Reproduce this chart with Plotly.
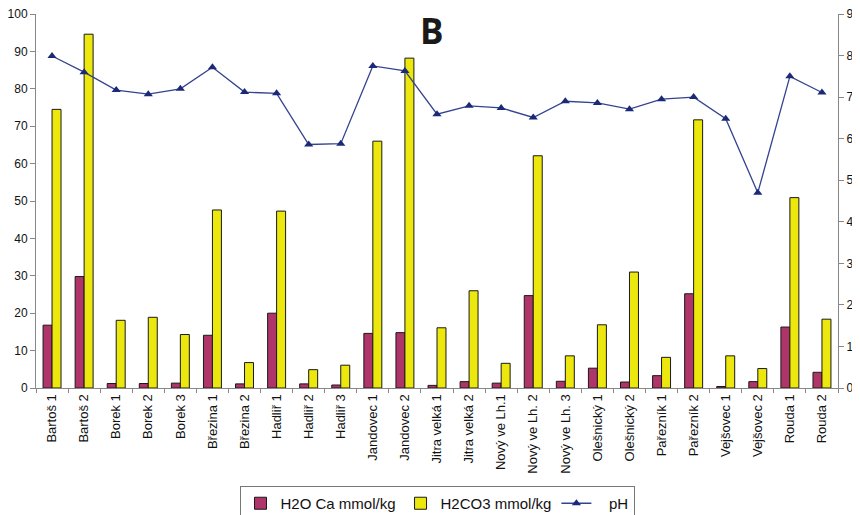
import plotly.graph_objects as go

categories = ["Bartoš 1", "Bartoš 2", "Borek 1", "Borek 2", "Borek 3", "Březina 1", "Březina 2",
              "Hadliř 1", "Hadliř 2", "Hadliř 3", "Jandovec 1", "Jandovec 2", "Jitra velká 1",
              "Jitra velká 2", "Nový ve Lh.1", "Nový ve Lh. 2", "Nový ve Lh. 3", "Olešnický 1",
              "Olešnický 2", "Pařezník 1", "Pařezník 2", "Vejšovec 1", "Vejšovec 2", "Rouda 1", "Rouda 2"]
h2o_ca = [16.8, 29.8, 1.2, 1.2, 1.3, 14.1, 1.1, 20.0, 1.1, 0.8, 14.6, 14.8, 0.7,
          1.7, 1.3, 24.7, 1.8, 5.3, 1.6, 3.3, 25.2, 0.4, 1.7, 16.3, 4.2]
h2co3 = [74.5, 94.6, 18.1, 18.9, 14.3, 47.6, 6.8, 47.3, 4.9, 6.1, 66.0, 88.2, 16.1,
         26.0, 6.6, 62.1, 8.6, 16.9, 31.0, 8.2, 71.7, 8.6, 5.2, 50.9, 18.4]
ph = [7.99, 7.6, 7.17, 7.07, 7.2, 7.72, 7.12, 7.09, 5.86, 5.88, 7.75, 7.63, 6.59,
      6.79, 6.74, 6.51, 6.9, 6.86, 6.71, 6.95, 7.0, 6.48, 4.7, 7.5, 7.11]

left_ticks = [0, 10, 20, 30, 40, 50, 60, 70, 80, 90, 100]
right_ticks = [0, 1, 2, 3, 4, 5, 6, 7, 8, 9]

font_family = "Liberation Sans, Arial, sans-serif"

fig = go.Figure()
fig.add_trace(go.Bar(x=categories, y=h2o_ca, name="H2O Ca mmol/kg",
                     marker=dict(color="#AE3469", line=dict(color="#1a1a1a", width=1))))
fig.add_trace(go.Bar(x=categories, y=h2co3, name="H2CO3 mmol/kg",
                     marker=dict(color="#ECE70C", line=dict(color="#1a1a1a", width=1))))
fig.add_trace(go.Scatter(x=categories, y=ph, name="   pH", yaxis="y2", mode="lines+markers",
                         line=dict(color="#34438F", width=1.3),
                         marker=dict(symbol="triangle-up", size=8, color="#1B2A78")))

# page body has an 8px margin: figure is sized so the plot lands where the reference's does
fig.update_layout(
    width=852, height=507,
    margin=dict(l=28, r=22, t=6, b=127, autoexpand=False),
    paper_bgcolor="white", plot_bgcolor="white",
    font=dict(family=font_family, size=12, color="#111"),
    barmode="group", bargap=0.44, bargroupgap=0,
    showlegend=True,
    legend=dict(orientation="h", x=0.5, xanchor="center", y=-0.262, yanchor="top",
                bordercolor="#777", borderwidth=1, font=dict(size=15, family=font_family),
                itemwidth=30, tracegroupgap=0),
    xaxis=dict(type="category", tickangle=-90, showgrid=False, showline=True,
               linecolor="#888", ticks="outside", tickcolor="#888", ticklen=4,
               tickson="boundaries", range=[-0.5, len(categories) - 0.5],
               tickfont=dict(size=13), automargin=False),
    yaxis=dict(range=[0, 100], tickvals=left_ticks, showgrid=False, showline=True,
               linecolor="#888", ticks="outside", tickcolor="#888", ticklen=5,
               zeroline=False, automargin=False, ticklabeloverflow="allow"),
    yaxis2=dict(range=[0, 9], tickvals=right_ticks, overlaying="y", side="right",
                showgrid=False, showline=True, linecolor="#888", ticks="outside",
                tickcolor="#888", ticklen=5, zeroline=False, automargin=False,
                ticklabeloverflow="allow"),
    annotations=[dict(text="<b>B</b>", x=0.494, y=0.955, xref="paper", yref="paper",
                      xanchor="center", yanchor="middle", showarrow=False,
                      font=dict(family="Open Sans, sans-serif", size=35, color="#1a1a1a"))],
)

fig.write_html("out.html")
